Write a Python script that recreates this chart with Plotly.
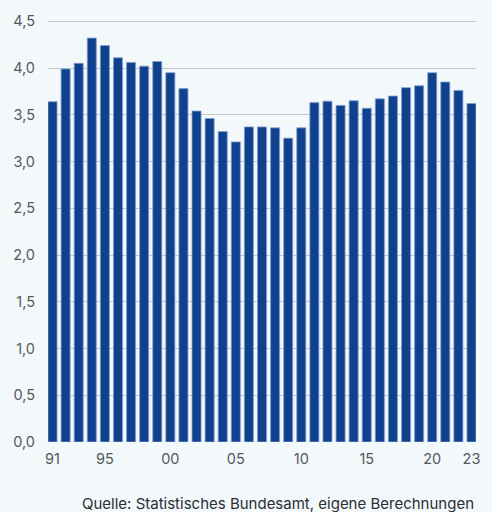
import plotly.graph_objects as go

years = list(range(1991, 2024))
values = [3.64, 3.99, 4.05, 4.32, 4.24, 4.11, 4.06, 4.02, 4.07, 3.95,
          3.78, 3.54, 3.46, 3.32, 3.21, 3.37, 3.37, 3.36, 3.25, 3.36,
          3.63, 3.645, 3.60, 3.65, 3.57, 3.67, 3.70, 3.79, 3.81, 3.95,
          3.85, 3.76, 3.62]
x_tick_years = [1991, 1995, 2000, 2005, 2010, 2015, 2020, 2023]
x_tick_text = ["91", "95", "00", "05", "10", "15", "20", "23"]
y_tick_vals = [0, 0.5, 1.0, 1.5, 2.0, 2.5, 3.0, 3.5, 4.0, 4.5]
y_tick_text = ["0,0", "0,5", "1,0", "1,5", "2,0", "2,5", "3,0", "3,5", "4,0", "4,5"]
source_text = "Quelle: Statistisches Bundesamt, eigene Berechnungen"

bar_w = 0.69
bg = "#f3f8fb"
font = "Inter, Lato, sans-serif"

fig = go.Figure(go.Bar(
    x=years, y=values, width=bar_w,
    marker=dict(color="#10418f", line=dict(color="#7f9fcc", width=0.8)),
    hoverinfo="x+y",
))

fig.update_layout(
    width=492, height=512,
    paper_bgcolor=bg, plot_bgcolor=bg,
    margin=dict(l=48, r=13, t=16, b=70),
    showlegend=False,
    font=dict(family=font, size=14, color="#55595e"),
    xaxis=dict(
        range=[years[0] - bar_w / 2, years[-1] + bar_w / 2],
        tickvals=x_tick_years, ticktext=x_tick_text,
        showgrid=False, zeroline=False, showline=False,
        ticks="", ticklabelstandoff=6,
        tickfont=dict(family=font, size=14.5, color="#55595e"),
    ),
    yaxis=dict(
        range=[0, 4.535],
        tickvals=y_tick_vals, ticktext=y_tick_text,
        showgrid=True, gridcolor="#c4c6c9", gridwidth=1,
        zeroline=False, showline=False,
        ticks="", ticklabelstandoff=12,
        tickfont=dict(family=font, size=14.5, color="#55595e"),
    ),
    annotations=[dict(
        text=source_text, xref="paper", yref="paper",
        x=1.0, y=-0.146, xanchor="right", yanchor="middle",
        showarrow=False, font=dict(family=font, size=15, color="#2b2f33"),
    )],
)

fig.write_html("out.html")
